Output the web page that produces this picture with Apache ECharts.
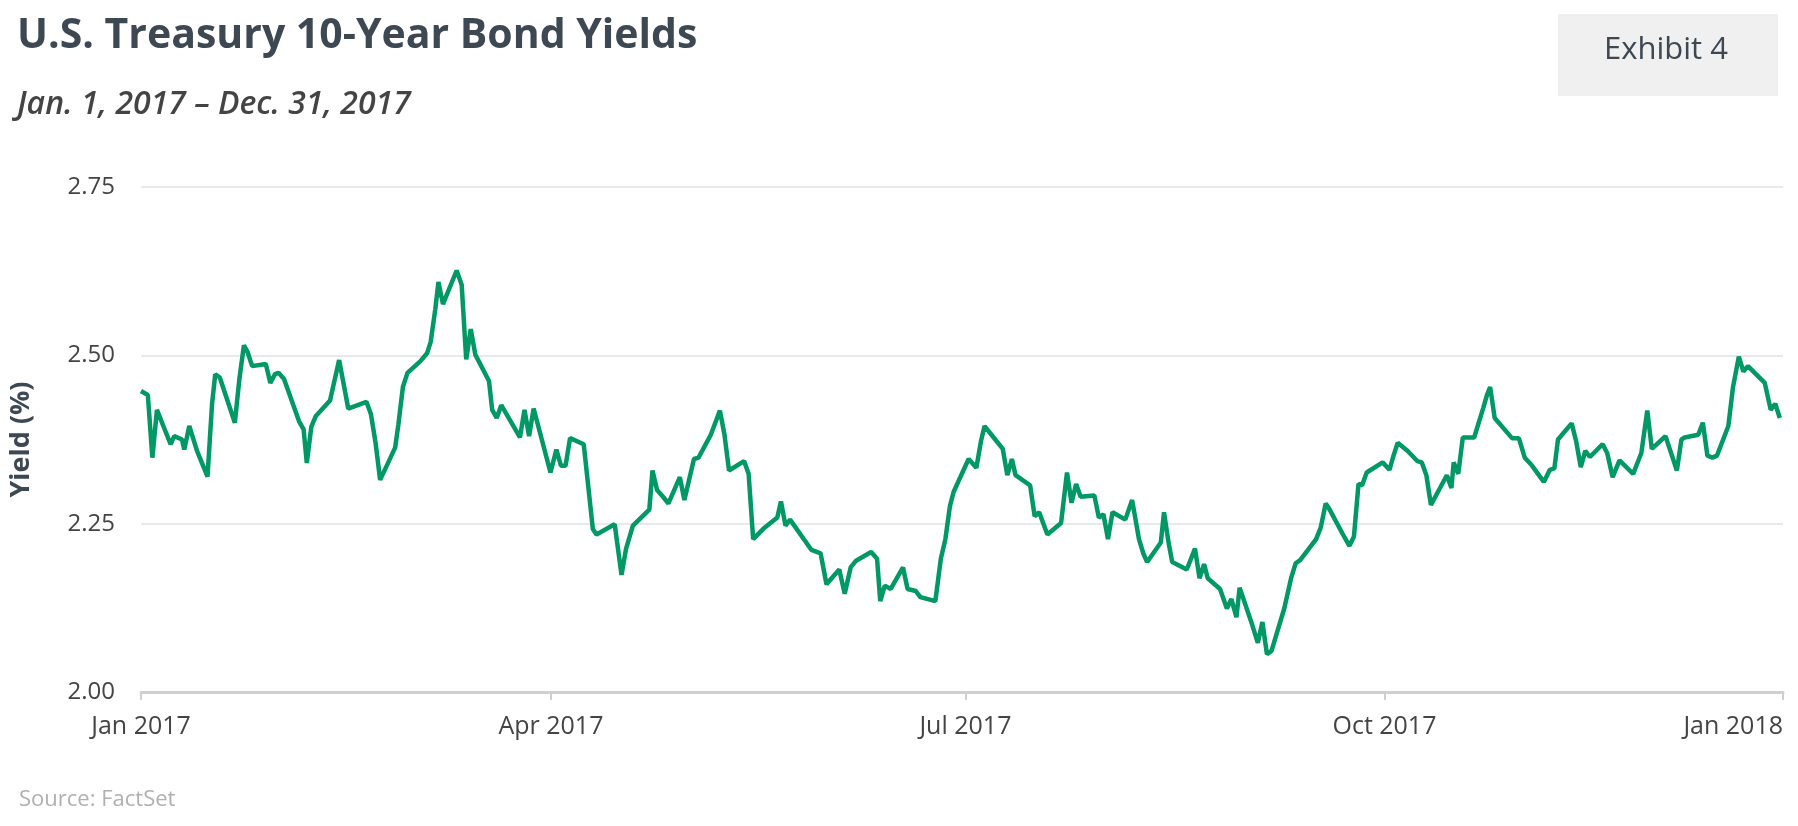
<!DOCTYPE html>
<html lang="en">
<head>
<meta charset="UTF-8">
<title>U.S. Treasury 10-Year Bond Yields</title>
<script src="https://cdn.jsdelivr.net/npm/echarts@6/dist/echarts.min.js"></script>
<style>
  html, body { margin: 0; padding: 0; background: #fff; }
  #chart { width: 1798px; height: 826px; }
</style>
</head>
<body>
<div id="chart"></div>
<script>
// days since Jan 1 2017
var days = [0,1.5,2.5,3.5,6.5,7.3,9.0,9.5,10.6,12.3,14.6,15.6,16.3,17.3,20.6,21.6,22.6,23.4,24.4,27.4,28.4,29.4,30.2,31.4,34.7,35.7,36.4,37.4,38.4,41.5,43.5,45.5,49.5,50.5,51.5,52.5,55.8,56.5,57.5,58.5,61.3,62.8,63.6,64.6,65.3,66.3,69.3,70.4,71.4,72.4,73.4,76.4,77.1,78.1,79.1,83.2,84.2,85.2,86.2,89.9,91.2,92.2,93.2,94.2,97.2,99.2,100.0,104.0,105.5,106.5,108.0,111.6,112.3,113.3,114.6,115.8,118.3,119.3,121.4,122.4,125.1,127.1,128.1,129.1,132.4,133.4,134.4,136.9,139.7,140.5,141.5,142.5,147.2,149.2,150.5,153.3,154.5,155.8,157.0,160.3,161.6,162.3,163.3,164.6,167.3,168.3,170.1,171.1,174.4,175.6,176.6,177.6,178.4,181.7,183.4,184.4,185.2,187.2,189.2,190.2,191.2,192.0,195.2,196.2,197.2,198.0,199.0,202.0,203.3,204.3,205.3,206.3,209.3,210.3,211.3,212.3,213.3,216.1,217.6,219.1,220.1,220.9,223.9,224.6,225.6,226.4,229.6,231.4,232.4,233.4,234.2,236.9,238.4,239.4,240.5,241.2,244.0,245.2,246.2,247.2,248.2,251.0,252.5,253.5,254.5,258.0,259.0,260.1,260.8,263.8,265.3,266.3,267.3,268.1,269.1,272.6,274.1,274.9,275.9,278.1,280.2,281.2,282.2,283.2,285.2,286.7,287.7,288.2,289.2,290.2,292.7,294.7,295.5,296.2,297.2,301.0,302.5,303.8,305.3,308.0,309.3,310.3,311.1,314.1,315.1,316.1,317.1,318.1,320.9,321.9,323.1,324.6,327.6,329.4,330.7,331.7,334.7,337.2,338.2,338.9,341.9,342.9,343.9,345.0,346.0,348.5,349.5,350.8,351.8,352.8,356.5,357.8,358.8,359.8];
var yields = [2.447,2.441,2.348,2.419,2.368,2.380,2.375,2.36,2.395,2.358,2.32,2.428,2.472,2.467,2.40,2.465,2.515,2.505,2.484,2.487,2.459,2.472,2.474,2.465,2.402,2.39,2.34,2.394,2.41,2.433,2.493,2.421,2.431,2.412,2.37,2.315,2.363,2.397,2.453,2.474,2.491,2.503,2.52,2.568,2.609,2.576,2.626,2.605,2.494,2.539,2.501,2.462,2.419,2.407,2.426,2.378,2.419,2.38,2.421,2.326,2.36,2.336,2.336,2.377,2.368,2.242,2.234,2.249,2.174,2.213,2.247,2.271,2.329,2.30,2.29,2.28,2.319,2.285,2.346,2.348,2.382,2.418,2.382,2.329,2.343,2.324,2.227,2.244,2.259,2.283,2.247,2.256,2.211,2.206,2.16,2.182,2.146,2.185,2.195,2.208,2.198,2.135,2.158,2.153,2.185,2.153,2.15,2.141,2.135,2.198,2.227,2.276,2.297,2.346,2.333,2.372,2.395,2.378,2.361,2.322,2.346,2.322,2.307,2.261,2.267,2.252,2.234,2.251,2.326,2.281,2.309,2.29,2.292,2.259,2.264,2.227,2.267,2.256,2.285,2.227,2.205,2.193,2.222,2.267,2.222,2.193,2.182,2.213,2.169,2.19,2.169,2.153,2.124,2.138,2.111,2.155,2.099,2.073,2.104,2.056,2.061,2.124,2.169,2.191,2.196,2.227,2.244,2.28,2.273,2.235,2.217,2.231,2.309,2.307,2.326,2.341,2.33,2.349,2.37,2.358,2.343,2.341,2.322,2.278,2.303,2.322,2.303,2.341,2.324,2.378,2.378,2.422,2.441,2.453,2.407,2.377,2.377,2.348,2.337,2.312,2.33,2.332,2.375,2.399,2.372,2.334,2.358,2.349,2.368,2.355,2.319,2.344,2.324,2.355,2.418,2.361,2.38,2.329,2.375,2.378,2.382,2.40,2.351,2.348,2.351,2.395,2.452,2.498,2.476,2.484,2.459,2.419,2.428,2.407];
var yTicks = [2.00, 2.25, 2.50, 2.75];
var xTickDays = [0, 90, 181, 273, 360.5];
var xTickLabels = ['Jan 2017', 'Apr 2017', 'Jul 2017', 'Oct 2017', 'Jan 2018'];

var series = days.map(function (d, i) { return [d, yields[i]]; });

var chart = echarts.init(document.getElementById('chart'));
chart.setOption({
  animation: false,
  textStyle: { fontFamily: 'Open Sans' },
  title: [
    { text: 'U.S. Treasury 10-Year Bond Yields', left: 12, top: 11,
      textStyle: { fontSize: 41, fontWeight: 'bold', color: '#3d4852', fontFamily: 'Open Sans' } },
    { text: 'Jan. 1, 2017 \u2013 Dec. 31, 2017', left: 12, top: 84,
      textStyle: { fontSize: 32, fontStyle: 'italic', fontWeight: 600, color: '#444', fontFamily: 'Open Sans' } },
    { text: 'Source: FactSet', left: 14, top: 784,
      textStyle: { fontSize: 22, fontWeight: 'normal', color: '#b0b0b0', fontFamily: 'Open Sans' } }
  ],
  graphic: [
    { type: 'rect', left: 1558, top: 14, shape: { width: 220, height: 82 }, style: { fill: '#f0f0f0' } },
    { type: 'text', left: 1604, top: 35, style: { text: 'Exhibit 4', fontSize: 31, fill: '#3d4852', fontFamily: 'Open Sans' } }
  ],
  grid: { left: 139, right: 15, top: 187, bottom: 134 },
  xAxis: {
    type: 'value',
    min: 0,
    max: xTickDays[xTickDays.length - 1],
    axisLine: { lineStyle: { color: '#d0d0d0', width: 3 } },
    axisTick: { show: true, length: 8, customValues: xTickDays, lineStyle: { color: '#d0d0d0', width: 2 } },
    splitLine: { show: false },
    axisLabel: {
      fontSize: 25, color: '#444', margin: 22, alignMaxLabel: 'right',
      customValues: xTickDays,
      formatter: function (v) { return xTickLabels[xTickDays.indexOf(v)]; }
    }
  },
  yAxis: {
    type: 'value',
    min: yTicks[0], max: yTicks[yTicks.length - 1], interval: 0.25,
    name: 'Yield (%)', nameLocation: 'middle', nameGap: 106, nameRotate: 90,
    nameTextStyle: { fontSize: 27, fontWeight: 'bold', color: '#3d4852' },
    axisLine: { show: false }, axisTick: { show: false },
    splitLine: { lineStyle: { color: '#e2e2e2', width: 1.5 } },
    axisLabel: { fontSize: 24, color: '#444', margin: 26, formatter: function (v) { return v.toFixed(2); } }
  },
  series: [{
    type: 'line', data: series, showSymbol: false,
    lineStyle: { color: '#009864', width: 4.5 }
  }]
});
</script>
</body>
</html>
